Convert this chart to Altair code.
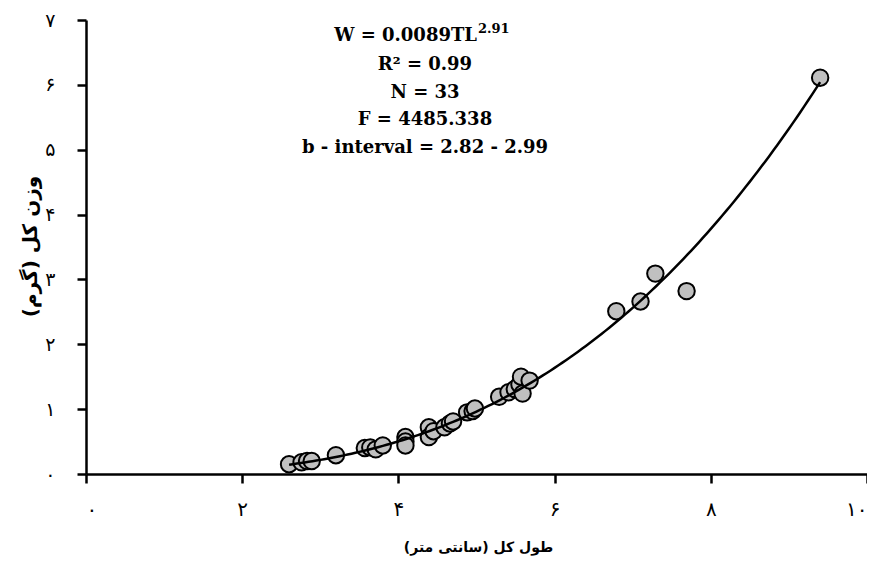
import altair as alt
import pandas as pd

# Total length (cm) and total weight (g)
tl = [2.60, 2.76, 2.83, 2.89, 3.20, 3.57, 3.64, 3.71, 3.80, 4.09, 4.09, 4.09,
      4.39, 4.39, 4.45, 4.59, 4.66, 4.70, 4.88, 4.95, 4.98, 5.29, 5.41, 5.49,
      5.55, 5.59, 5.57, 5.68, 6.79, 7.10, 7.29, 7.69, 9.40]
w = [0.15, 0.18, 0.20, 0.20, 0.29, 0.40, 0.41, 0.38, 0.44, 0.57, 0.50, 0.44,
     0.72, 0.57, 0.66, 0.72, 0.78, 0.81, 0.95, 0.97, 1.01, 1.19, 1.26, 1.31,
     1.38, 1.24, 1.50, 1.44, 2.51, 2.66, 3.09, 2.82, 6.11]

# Fitted model printed on the chart: W = a * TL^b
coef_a = 0.0089
coef_b = 2.91
curve_range = [2.6, 9.4]

persian_digits = ['۰', '۱', '۲', '۳', '۴', '۵', '۶', '۷', '۸', '۹', '۱۰']
x_ticks = [0, 2, 4, 6, 8, 10]
y_ticks = [0, 1, 2, 3, 4, 5, 6, 7]

x_title = "\u200fطول کل (سانتی متر)\u200f"
y_title = "\u200fوزن کل (گرم)\u200f"

eq_main = "W = 0.0089TL"
eq_sup = "2.91"
stat_lines = ["R² = 0.99", "N = 33", "F = 4485.338", "b - interval = 2.82 - 2.99"]

df = pd.DataFrame({"TL": tl, "W": w})
label_expr = "[" + ",".join("'" + d + "'" for d in persian_digits) + "][datum.value]"

x_enc = alt.X("TL:Q", scale=alt.Scale(domain=[0, 10], nice=False),
              axis=alt.Axis(values=x_ticks, labelExpr=label_expr, title=x_title,
                            grid=False, domainColor="black", domainWidth=2.5,
                            tickColor="black", tickWidth=2.5, tickSize=9,
                            labelFont="DejaVu Sans", labelFontSize=20, labelColor="black",
                            labelPadding=16, titleFont="DejaVu Sans", titleFontSize=14,
                            titleFontWeight="bold", titleColor="black",
                            titleX=392, titleY=73, titleBaseline="middle"))
y_enc = alt.Y("W:Q", scale=alt.Scale(domain=[0, 7], nice=False),
              axis=alt.Axis(values=y_ticks, labelExpr=label_expr, title=y_title,
                            grid=False, domainColor="black", domainWidth=2.5,
                            tickColor="black", tickWidth=2.5, tickSize=9,
                            labelFont="DejaVu Sans", labelFontSize=19, labelColor="black",
                            labelPadding=22, titleFont="DejaVu Sans", titleFontSize=20,
                            titleFontWeight="bold", titleColor="black",
                            titleX=-56, titleY=226, titleBaseline="middle"))

points = alt.Chart(df).mark_circle(size=270, fill="#c0c0c0", stroke="black",
                                   strokeWidth=2, opacity=1).encode(x=x_enc, y=y_enc)

curve = alt.Chart(alt.sequence(curve_range[0], curve_range[1] + 0.001, 0.05, as_="TL")).transform_calculate(
    W=f"{coef_a} * pow(datum.TL, {coef_b})"
).mark_line(color="black", strokeWidth=2.5).encode(x="TL:Q", y="W:Q")

def text_layer(s, x, y, size, align):
    return alt.Chart(pd.DataFrame({"t": [s]})).mark_text(
        font="DejaVu Serif", fontWeight="bold", fontSize=size, align=align,
        baseline="middle", color="black"
    ).encode(text="t:N", x=alt.value(x), y=alt.value(y))

layers = [points, curve,
          text_layer(eq_main, 391, 16, 18, "right"),
          text_layer(eq_sup, 392, 8.5, 13, "left")]
stat_y = [45, 73, 100, 128]
for s, yy in zip(stat_lines, stat_y):
    layers.append(text_layer(s, 339, yy, 18, "center"))

chart = alt.layer(*layers).properties(
    width=781, height=454,
    autosize=alt.AutoSizeParams(type="none"),
    padding={"left": 78, "top": 12, "right": 0, "bottom": 83},
    background="white"
).configure_view(stroke=None)

chart.save("out.html", embed_options={"renderer": "svg", "actions": False})
